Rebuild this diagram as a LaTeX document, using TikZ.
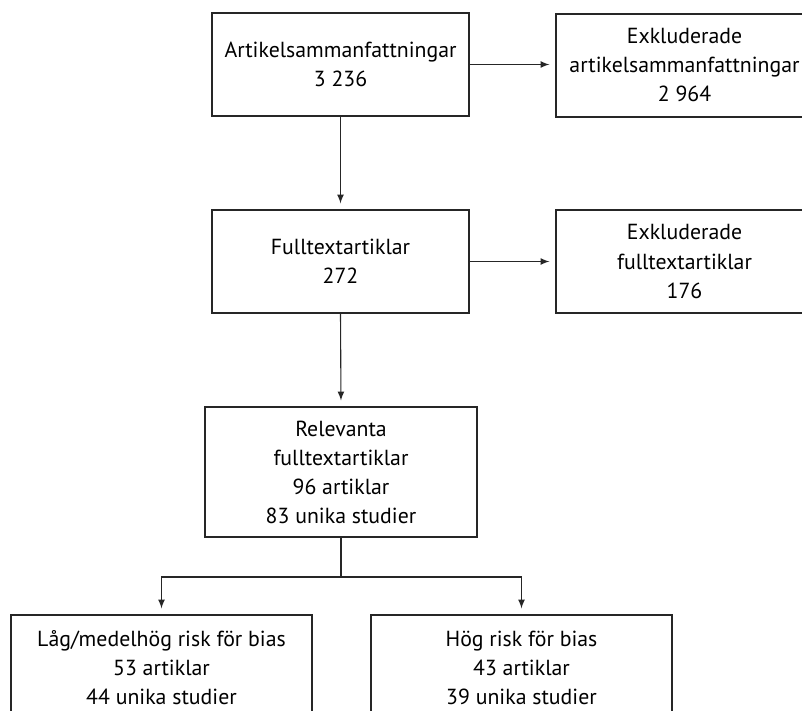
\documentclass[tikz,border=0pt]{standalone}
\usepackage{fontspec}
\setmainfont{PT Sans}
\usetikzlibrary{arrows}

\tikzset{box/.style={draw=black!85,line width=0.55pt,align=center,inner sep=0pt,
                     font=\fontsize{10.9}{14.5}\selectfont},
         arr/.style={-latex,draw=black!85,line width=0.55pt,shorten >=3pt}}

\begin{document}
\begin{tikzpicture}[x=0.5pt,y=-0.5pt]
                      \useasboundingbox (0,0) rectangle (802,711);
                      \clip (0,0) rectangle (802,711);
                      \node[box,minimum width=128.5pt,minimum height=51.5pt](abs)at(340.5,64.5){Artikelsammanfattningar\\3 236};
                      \node[box,minimum width=128.5pt,minimum height=51.5pt](absx)at(684.5,65.5){Exkluderade\\artikelsammanfattningar\\2 964};
                      \node[box,minimum width=128.5pt,minimum height=51.5pt](full)at(340.5,261.5){Fulltextartiklar\\272};
                      \node[box,minimum width=128.5pt,minimum height=51.5pt](fullx)at(684.5,261.5){Exkluderade\\fulltextartiklar\\176};
                      \node[box,minimum width=136pt,minimum height=65pt](rel)at(341,472){Relevanta\\fulltextartiklar\\96 artiklar\\83 unika studier};
                      \node[box,minimum width=150.5pt,minimum height=53pt](low)at(161.5,668){Låg/medelhög risk för bias\\53 artiklar\\44 unika studier};
                      \node[box,minimum width=150.5pt,minimum height=53pt](high)at(521.5,668){Hög risk för bias\\43 artiklar\\39 unika studier};
                      \draw[arr] (abs.east) -- (abs.east -| absx.west);
                      \draw[arr] (abs) -- (full);
                      \draw[arr] (full) -- (fullx);
                      \draw[arr] (full.south) -- (rel.north);
                      \coordinate (split) at (341,577);
                      \draw[draw=black!85,line width=0.55pt] (rel) -- (split);
                      \draw[arr] (split) -| (low);
                      \draw[arr] (split) -| (high);
                  \end{tikzpicture}
\end{document}
